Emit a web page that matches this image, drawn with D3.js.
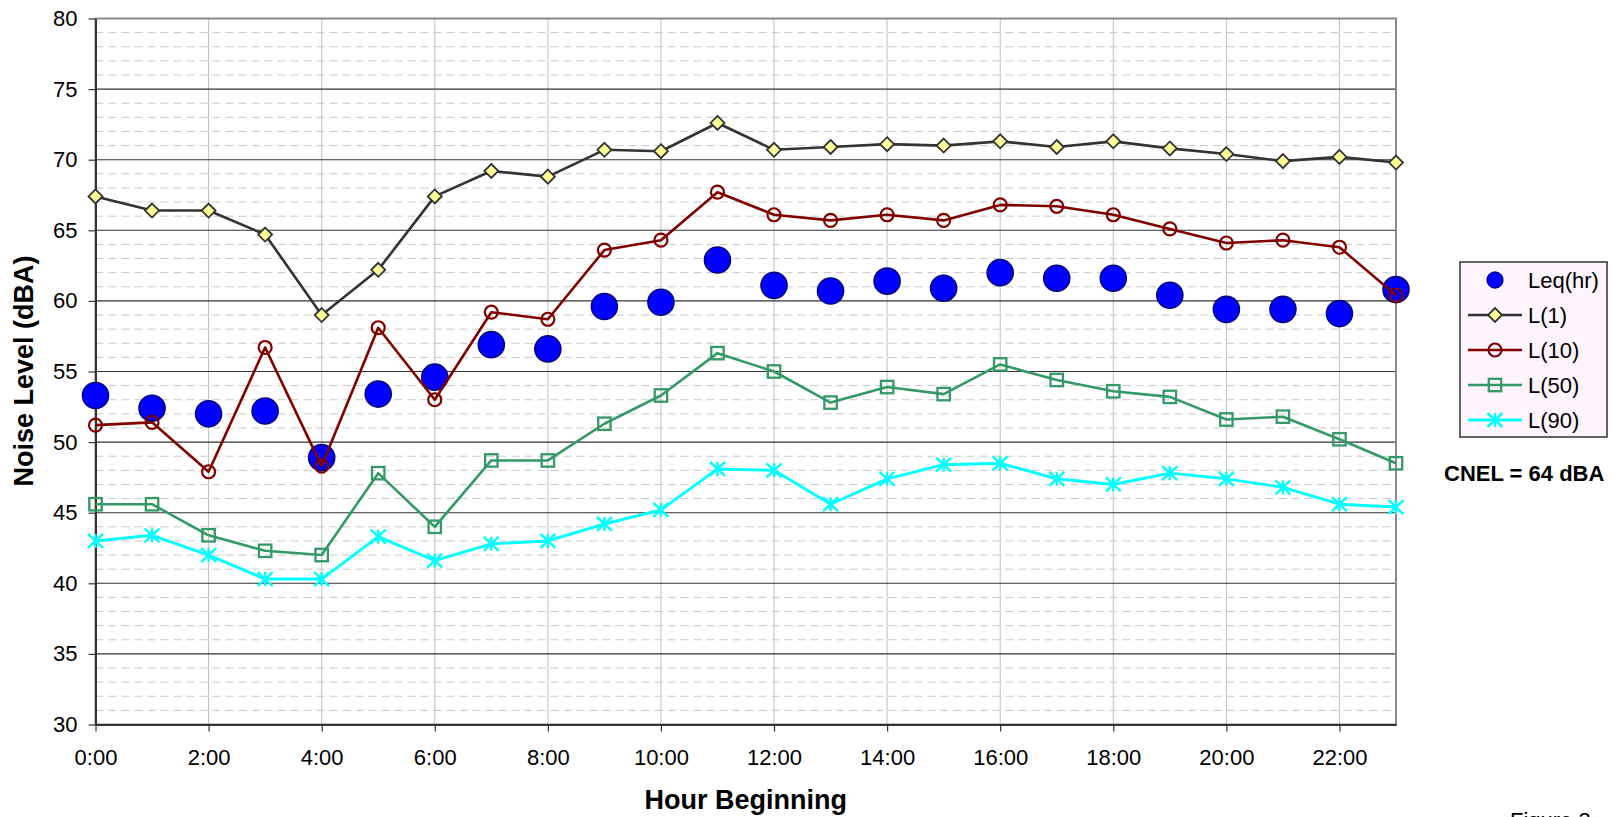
<!DOCTYPE html>
<html>
<head>
<meta charset="utf-8">
<script src="https://cdn.jsdelivr.net/npm/d3@7"></script>
<style>
  html, body { margin: 0; padding: 0; background: #fff; }
  svg { display: block; font-family: "Liberation Sans", Arial, sans-serif; }
</style>
</head>
<body>
<svg id="chart" width="1614" height="817"></svg>
<script>
// Hourly noise measurements (dBA) by hour beginning
const hours = [0, 1, 2, 3, 4, 5, 6, 7, 8, 9, 10, 11, 12, 13, 14, 15, 16, 17, 18, 19, 20, 21, 22, 23];
const leq = [53.3, 52.4, 52.0, 52.2, 48.9, 53.4, 54.6, 56.9, 56.6, 59.6, 59.9, 62.9, 61.1, 60.7, 61.4, 60.9, 62.0, 61.6, 61.6, 60.4, 59.4, 59.4, 59.1, 60.8];
const l1 = [67.4, 66.4, 66.4, 64.7, 59.0, 62.2, 67.4, 69.2, 68.8, 70.7, 70.6, 72.6, 70.7, 70.9, 71.1, 71.0, 71.3, 70.9, 71.3, 70.8, 70.4, 69.9, 70.2, 69.8];
const l10 = [51.2, 51.4, 47.9, 56.7, 48.3, 58.1, 53.0, 59.2, 58.7, 63.6, 64.3, 67.7, 66.1, 65.7, 66.1, 65.7, 66.8, 66.7, 66.1, 65.1, 64.1, 64.3, 63.8, 60.4];
const l50 = [45.6, 45.6, 43.4, 42.3, 42.0, 47.8, 44.0, 48.7, 48.7, 51.3, 53.3, 56.3, 55.0, 52.8, 53.9, 53.4, 55.5, 54.4, 53.6, 53.2, 51.6, 51.8, 50.2, 48.5];
const l90 = [43.0, 43.4, 42.0, 40.3, 40.3, 43.3, 41.6, 42.8, 43.0, 44.2, 45.2, 48.1, 48.0, 45.6, 47.4, 48.4, 48.5, 47.4, 47.0, 47.8, 47.4, 46.8, 45.6, 45.4];
const xTickHours = [0, 2, 4, 6, 8, 10, 12, 14, 16, 18, 20, 22];
const xTickLabels = ["0:00", "2:00", "4:00", "6:00", "8:00", "10:00", "12:00", "14:00", "16:00", "18:00", "20:00", "22:00"];
const yTicks = [30, 35, 40, 45, 50, 55, 60, 65, 70, 75, 80];
const cnel = 64;

const svg = d3.select("#chart");
const plot = { left: 95.5, right: 1396, top: 18.5, bottom: 724.5 };

const x = d3.scaleLinear().domain([0, 23]).range([plot.left, plot.right]);
const y = d3.scaleLinear().domain([30, 80]).range([plot.bottom, plot.top]);

// Plot area background
svg.append("rect")
  .attr("x", plot.left).attr("y", plot.top)
  .attr("width", plot.right - plot.left).attr("height", plot.bottom - plot.top)
  .attr("fill", "#fff");

// Minor horizontal gridlines (every 1 dBA, dashed)
const minor = d3.range(31, 80).filter(v => v % 5 !== 0);
svg.append("g").selectAll("line").data(minor).join("line")
  .attr("x1", plot.left).attr("x2", plot.right)
  .attr("y1", d => y(d)).attr("y2", d => y(d))
  .attr("stroke", "#c8c8c8").attr("stroke-width", 1)
  .attr("stroke-dasharray", "8,5");

// Vertical gridlines at labelled hours
svg.append("g").selectAll("line").data(xTickHours.filter(h => h > 0)).join("line")
  .attr("x1", d => x(d)).attr("x2", d => x(d))
  .attr("y1", plot.top).attr("y2", plot.bottom)
  .attr("stroke", "#c0c0c0").attr("stroke-width", 1);

// Major horizontal gridlines
svg.append("g").selectAll("line").data(yTicks.filter(v => v > 30 && v < 80)).join("line")
  .attr("x1", plot.left).attr("x2", plot.right)
  .attr("y1", d => y(d)).attr("y2", d => y(d))
  .attr("stroke", "#333").attr("stroke-width", 1.1);

// Plot border
svg.append("rect")
  .attr("x", plot.left).attr("y", plot.top)
  .attr("width", plot.right - plot.left).attr("height", plot.bottom - plot.top)
  .attr("fill", "none").attr("stroke", "#8a8a8a").attr("stroke-width", 2);

// Axes
const yAxis = d3.axisLeft(y).tickValues(yTicks).tickSize(7).tickSizeOuter(0).tickPadding(11);
const xAxis = d3.axisBottom(x).tickValues(xTickHours).tickSize(7).tickSizeOuter(0).tickPadding(18)
  .tickFormat((d, i) => xTickLabels[i]);

const gy = svg.append("g").attr("transform", `translate(${plot.left},0)`).call(yAxis);
const gx = svg.append("g").attr("transform", `translate(0,${plot.bottom})`).call(xAxis);
[gx, gy].forEach(g => {
  g.select(".domain").attr("stroke", "#333").attr("stroke-width", 2);
  g.selectAll(".tick line").attr("stroke", "#333").attr("stroke-width", 1.2);
  g.selectAll(".tick text").attr("fill", "#000").style("font-size", "22px")
    .style("font-family", '"Liberation Sans", Arial, sans-serif');
});

// Marker drawing helpers
function diamond(sel, s) {
  return sel.append("path").attr("d", `M0,${-s}L${s},0L0,${s}L${-s},0Z`);
}
function square(sel, s) {
  return sel.append("rect").attr("x", -s).attr("y", -s).attr("width", 2 * s).attr("height", 2 * s);
}
function star(sel, w, h) {
  return sel.append("path").attr("d", `M0,${-h}L0,${h}M${-w},${-h}L${w},${h}M${-w},${h}L${w},${-h}`);
}

const series = [
  { name: "Leq(hr)", values: leq, line: null,
    marker: g => g.append("circle").attr("r", 13).attr("fill", "#0000ff").attr("stroke", "#000080").attr("stroke-width", 1.6),
    legendMarker: g => g.append("circle").attr("r", 8).attr("fill", "#0000ff").attr("stroke", "#000080").attr("stroke-width", 1.3) },
  { name: "L(1)", values: l1, line: { color: "#333333", width: 2.6 },
    marker: g => diamond(g, 7).attr("fill", "#ffff99").attr("stroke", "#333").attr("stroke-width", 1.8) },
  { name: "L(10)", values: l10, line: { color: "#800000", width: 2.6 },
    marker: g => g.append("circle").attr("r", 6.5).attr("fill", "none").attr("stroke", "#800000").attr("stroke-width", 2.2) },
  { name: "L(50)", values: l50, line: { color: "#339966", width: 2.6 },
    marker: g => square(g, 6.2).attr("fill", "none").attr("stroke", "#339966").attr("stroke-width", 2.3) },
  { name: "L(90)", values: l90, line: { color: "#00ffff", width: 2.9 },
    marker: g => star(g, 7.5, 7).attr("fill", "none").attr("stroke", "#00ffff").attr("stroke-width", 2.4) }
];

const lineGen = d3.line().x((d, i) => x(hours[i])).y(d => y(d));

series.forEach(s => {
  const g = svg.append("g");
  if (s.line) {
    g.append("path").datum(s.values)
      .attr("d", lineGen)
      .attr("fill", "none")
      .attr("stroke", s.line.color)
      .attr("stroke-width", s.line.width)
      .attr("stroke-linejoin", "round");
  }
  s.values.forEach((v, i) => {
    const m = g.append("g").attr("transform", `translate(${x(hours[i])},${y(v)})`);
    s.marker(m);
  });
});

// Axis titles
svg.append("text")
  .attr("transform", "translate(33,371) rotate(-90)")
  .attr("text-anchor", "middle")
  .style("font-size", "27px").style("font-weight", "bold")
  .text("Noise Level (dBA)");

svg.append("text")
  .attr("x", (plot.left + plot.right) / 2).attr("y", 809)
  .attr("text-anchor", "middle")
  .style("font-size", "27px").style("font-weight", "bold")
  .text("Hour Beginning");

// Legend
const legend = svg.append("g");
legend.append("rect")
  .attr("x", 1460).attr("y", 262).attr("width", 147).attr("height", 175)
  .attr("fill", "#fdf4fd").attr("stroke", "#333").attr("stroke-width", 1.5);
series.forEach((s, i) => {
  const cy = 280 + i * 35;
  const row = legend.append("g");
  if (s.line) {
    row.append("line").attr("x1", 1468).attr("x2", 1522).attr("y1", cy).attr("y2", cy)
      .attr("stroke", s.line.color).attr("stroke-width", s.line.width);
  }
  const m = row.append("g").attr("transform", `translate(1495,${cy})`);
  (s.legendMarker || s.marker)(m);
  row.append("text").attr("x", 1528).attr("y", cy).attr("dy", "0.35em")
    .style("font-size", "22px").text(s.name);
});

// CNEL annotation
svg.append("text")
  .attr("x", 1444).attr("y", 480.5)
  .style("font-size", "22px").style("font-weight", "bold")
  .text(`CNEL = ${cnel} dBA`);

// Figure caption along the lower page edge
svg.append("text")
  .attr("x", 1510).attr("y", 828)
  .style("font-size", "22px")
  .text("Figure 3");
</script>
</body>
</html>
